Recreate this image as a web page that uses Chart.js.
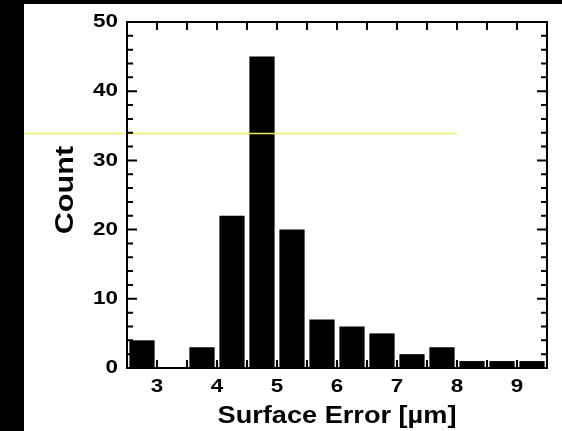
<!DOCTYPE html>
<html>
<head>
<meta charset="utf-8">
<script src="https://cdn.jsdelivr.net/npm/chart.js@4/dist/chart.umd.min.js"></script>
<style>
  html, body { margin: 0; padding: 0; background: #000; }
  #wrap { width: 562px; height: 431px; }
</style>
</head>
<body>
<div id="wrap"><canvas id="hist" width="562" height="431"></canvas></div>
<script>
// Histogram of surface error, 0.5 µm bins
const binCenters = [2.75, 3.25, 3.75, 4.25, 4.75, 5.25, 5.75, 6.25, 6.75, 7.25, 7.75, 8.25, 8.75, 9.25];
const counts     = [4,    0,    3,    22,   45,   20,   7,    6,    5,    2,    3,    1,    1,    1];

const xTickValues = [3, 4, 5, 6, 7, 8, 9];
const xTickLabels = ['3', '4', '5', '6', '7', '8', '9'];
const yTickValues = [0, 10, 20, 30, 40, 50];
const yTickLabels = ['0', '10', '20', '30', '40', '50'];

const xTitle = 'Surface Error [µm]';
const yTitle = 'Count';

// horizontal reference level and where it stops along x
const refLevel = 34;
const refEndX = 8;

const FONT = '"Liberation Sans", Arial, sans-serif';
const STRETCH = 1.18;

function stretchedText(ctx, text, x, y, align, baseline, font, rotate) {
  ctx.save();
  ctx.font = font;
  ctx.textAlign = align;
  ctx.textBaseline = baseline;
  ctx.translate(x, y);
  if (rotate) ctx.rotate(rotate);
  ctx.scale(STRETCH, 1);
  ctx.fillText(text, 0, 0);
  ctx.restore();
}

const backdrop = {
  id: 'backdrop',
  beforeDraw(chart) {
    const ctx = chart.ctx;
    ctx.save();
    ctx.fillStyle = '#000';
    ctx.fillRect(0, 0, chart.width, chart.height);
    ctx.fillStyle = '#fff';
    ctx.fillRect(24, 4, chart.width - 24, chart.height - 4);
    ctx.restore();
  }
};

const frame = {
  id: 'frame',
  afterDatasetsDraw(chart) {
    const ctx = chart.ctx;
    const xs = chart.scales.x, ys = chart.scales.y;
    const a = chart.chartArea;
    ctx.save();

    // reference line
    ctx.strokeStyle = '#eeee66';
    ctx.lineWidth = 1.5;
    const ry = Math.round(ys.getPixelForValue(refLevel)) + 0.5;
    ctx.beginPath();
    ctx.moveTo(24, ry);
    ctx.lineTo(xs.getPixelForValue(refEndX), ry);
    ctx.stroke();

    // box
    ctx.strokeStyle = '#000';
    ctx.lineWidth = 2;
    ctx.strokeRect(a.left, a.top, a.right - a.left, a.bottom - a.top);

    // x ticks (top and bottom, inward) every 0.5
    ctx.beginPath();
    for (let v = 3; v <= 9.001; v += 0.5) {
      const px = xs.getPixelForValue(v);
      ctx.moveTo(px, a.top); ctx.lineTo(px, a.top + 8);
      ctx.moveTo(px, a.bottom); ctx.lineTo(px, a.bottom - 8);
    }
    // y ticks (left and right, inward) every 2, longer at 10s
    for (let v = 2; v < 50; v += 2) {
      const py = ys.getPixelForValue(v);
      const len = v % 10 === 0 ? 10 : 6;
      ctx.moveTo(a.left, py); ctx.lineTo(a.left + len, py);
      ctx.moveTo(a.right, py); ctx.lineTo(a.right - len, py);
    }
    ctx.stroke();

    // tick labels
    ctx.fillStyle = '#000';
    const tickFont = 'bold 19px ' + FONT;
    xTickValues.forEach((v, i) => {
      stretchedText(ctx, xTickLabels[i], xs.getPixelForValue(v), a.bottom + 19, 'center', 'middle', tickFont);
    });
    yTickValues.forEach((v, i) => {
      stretchedText(ctx, yTickLabels[i], a.left - 9, ys.getPixelForValue(v), 'right', 'middle', tickFont);
    });

    // axis titles
    const titleFont = 'bold 23px ' + FONT;
    stretchedText(ctx, xTitle, (a.left + a.right) / 2, 423, 'center', 'alphabetic', titleFont);
    stretchedText(ctx, yTitle, 66, 190, 'center', 'middle', 'bold 26px ' + FONT, -Math.PI / 2);

    ctx.restore();
  }
};

new Chart(document.getElementById('hist'), {
  type: 'bar',
  data: {
    datasets: [{
      data: binCenters.map((x, i) => ({ x: x, y: counts[i] })),
      backgroundColor: '#000',
      borderWidth: 0,
      barPercentage: 0.84,
      categoryPercentage: 1.0
    }]
  },
  options: {
    responsive: false,
    animation: false,
    devicePixelRatio: 1,
    layout: { padding: { left: 127, right: 15, top: 22, bottom: 63 } },
    plugins: { legend: { display: false }, tooltip: { enabled: false } },
    scales: {
      x: { type: 'linear', min: 2.5, max: 9.5, offset: false, display: false },
      y: { min: 0, max: 50, display: false }
    }
  },
  plugins: [backdrop, frame]
});
</script>
</body>
</html>
